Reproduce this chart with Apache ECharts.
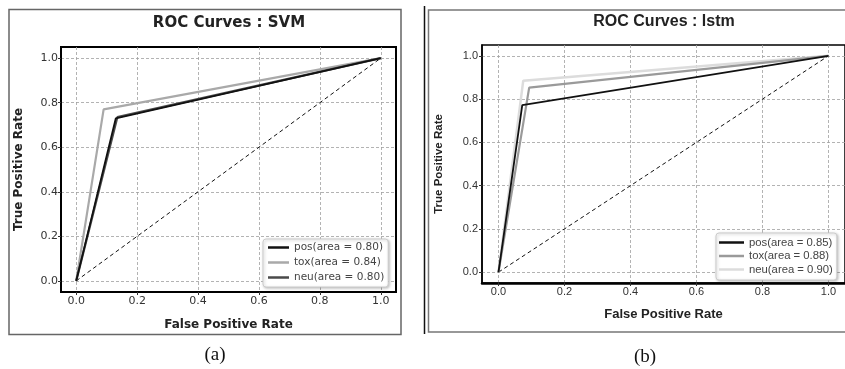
<!DOCTYPE html>
<html>
<head>
<meta charset="utf-8">
<script src="https://cdn.jsdelivr.net/npm/echarts@6/dist/echarts.min.js"></script>
<style>html,body{margin:0;padding:0;background:#fff}#c{width:845px;height:369px}</style>
</head>
<body>
<div id="c"></div>
<script>
// ---- data ----
const ticks = [0, 0.2, 0.4, 0.6, 0.8, 1.0];
const chance = [[0, 0], [1, 1]];
// SVM (panel a)
const svmPos = [[0, 0], [0.13, 0.73], [1, 1]];
const svmTox = [[0, 0], [0.09, 0.77], [1, 1]];
const svmNeu = [[0, 0], [0.135, 0.735], [1, 1]];
const svmNames = ['pos(area = 0.80)', 'tox(area = 0.84)', 'neu(area = 0.80)'];
// LSTM (panel b)
const lstmPos = [[0, 0], [0.072, 0.772], [1, 1]];
const lstmTox = [[0, 0], [0.093, 0.853], [1, 1]];
const lstmNeu = [[0, 0], [0.075, 0.885], [1, 1]];
const lstmNames = ['pos(area = 0.85)', 'tox(area = 0.88)', 'neu(area = 0.90)'];
const titles = ['ROC Curves : SVM', 'ROC Curves : lstm'];
const captions = ['(a)', '(b)'];

const chart = echarts.init(document.getElementById('c'), null, {renderer: 'canvas'});

function mkAxis(i, font, name, gap, lineW, nameSize, labelMargin) {
  return {
    type: 'value', gridIndex: i, min: -0.05, max: 1.05,
    name: name, nameLocation: 'middle', nameGap: gap,
    nameTextStyle: {fontFamily: font, fontWeight: 'bold', fontSize: nameSize, color: '#222'},
    axisLine: {show: true, onZero: false, lineStyle: {color: '#000', width: lineW}},
    axisTick: {show: true, inside: false, length: 3, customValues: ticks, lineStyle: {color: '#333'}},
    axisLabel: {customValues: ticks, formatter: v => v.toFixed(1), fontFamily: font, fontSize: 11, color: '#333', margin: labelMargin},
    splitLine: {show: true, lineStyle: {type: [3, 2], color: '#a0a0a0', width: 0.8}}
  };
}

function lineSeries(name, data, color, i, w) {
  return {type: 'line', name: name, data: data, xAxisIndex: i, yAxisIndex: i,
    showSymbol: false, symbol: 'none', lineStyle: {color: color, width: w}, itemStyle: {color: color},
    emphasis: {disabled: true}, animation: false, z: 3};
}

const svmColors = ['#111', '#a9a9a9', '#4a4a4a'];
const lstmColors = ['#111', '#9a9a9a', '#dcdcdc'];

const option = {
  animation: false,
  title: [
    {text: titles[0], left: 229, top: 16, textAlign: 'center', padding: 0,
     textStyle: {fontFamily: 'DejaVu Sans', fontWeight: 'bold', fontSize: 15, color: '#222'}},
    {text: titles[1], left: 664, top: 14, textAlign: 'center', padding: 0,
     textStyle: {fontFamily: 'Liberation Sans', fontWeight: 'bold', fontSize: 16, color: '#222'}}
  ],
  grid: [
    {left: 61, top: 47, width: 335, height: 245, show: true, borderColor: '#000', borderWidth: 2, containLabel: false},
    {left: 482, top: 45, width: 365, height: 238, show: true, borderColor: '#000', borderWidth: 1.5, containLabel: false}
  ],
  xAxis: [
    mkAxis(0, 'DejaVu Sans', 'False Positive Rate', 27, 2, 12, 4),
    mkAxis(1, 'Liberation Sans', 'False Positive Rate', 25, 2.5, 13, 3)
  ],
  yAxis: [
    mkAxis(0, 'DejaVu Sans', 'True Positive Rate', 36, 2, 12, 3),
    mkAxis(1, 'Liberation Sans', 'True Positive Rate', 37, 1.5, 11.5, 4)
  ],
  legend: [
    {data: svmNames, orient: 'vertical', left: 263, top: 239, icon: 'rect', itemWidth: 21, itemHeight: 2.5, itemGap: 4,
     padding: [3, 4, 4, 5], backgroundColor: '#fff', borderColor: '#ccc', borderWidth: 1, borderRadius: 3,
     shadowColor: 'rgba(0,0,0,0.25)', shadowBlur: 3, shadowOffsetX: 1, shadowOffsetY: 1,
     textStyle: {fontFamily: 'DejaVu Sans', fontSize: 10.5, color: '#444'}, selectedMode: false},
    {data: lstmNames, orient: 'vertical', left: 716, top: 233, icon: 'rect', itemWidth: 25, itemHeight: 2.5, itemGap: 2.5,
     padding: [4, 4, 5, 3], backgroundColor: '#fff', borderColor: '#ccc', borderWidth: 1, borderRadius: 3,
     shadowColor: 'rgba(0,0,0,0.25)', shadowBlur: 3, shadowOffsetX: 1, shadowOffsetY: 1,
     textStyle: {fontFamily: 'Liberation Sans', fontSize: 11.3, color: '#444'}, selectedMode: false}
  ],
  series: [
    {type: 'line', data: chance, xAxisIndex: 0, yAxisIndex: 0, showSymbol: false, symbol: 'none',
     lineStyle: {color: '#111', width: 1, type: [4, 3]}, silent: true, z: 2},
    lineSeries(svmNames[1], svmTox, svmColors[1], 0, 2.2),
    lineSeries(svmNames[2], svmNeu, svmColors[2], 0, 2.2),
    lineSeries(svmNames[0], svmPos, svmColors[0], 0, 1.8),
    {type: 'line', data: chance, xAxisIndex: 1, yAxisIndex: 1, showSymbol: false, symbol: 'none',
     lineStyle: {color: '#111', width: 1, type: [4, 3]}, silent: true, z: 2},
    lineSeries(lstmNames[2], lstmNeu, lstmColors[2], 1, 2.5),
    lineSeries(lstmNames[1], lstmTox, lstmColors[1], 1, 2.2),
    lineSeries(lstmNames[0], lstmPos, lstmColors[0], 1, 1.8)
  ],
  graphic: [
    {type: 'rect', shape: {x: 9, y: 9.5, width: 392, height: 325}, style: {fill: null, stroke: '#666', lineWidth: 1.5}, silent: true},
    {type: 'polyline', shape: {points: [[850, 10], [428.5, 10], [428.5, 332], [850, 332]]}, style: {fill: null, stroke: '#777', lineWidth: 1.5}, silent: true},
    {type: 'line', shape: {x1: 424.5, y1: 6, x2: 424.5, y2: 334}, style: {stroke: '#111', lineWidth: 1.5}, silent: true},
    {type: 'text', x: 215, y: 355, style: {text: captions[0], fontFamily: 'Liberation Serif', fontSize: 19, fill: '#111', align: 'center', verticalAlign: 'middle'}, silent: true},
    {type: 'text', x: 645, y: 357, style: {text: captions[1], fontFamily: 'Liberation Serif', fontSize: 19, fill: '#111', align: 'center', verticalAlign: 'middle'}, silent: true}
  ]
};
chart.setOption(option);
</script>
</body>
</html>
